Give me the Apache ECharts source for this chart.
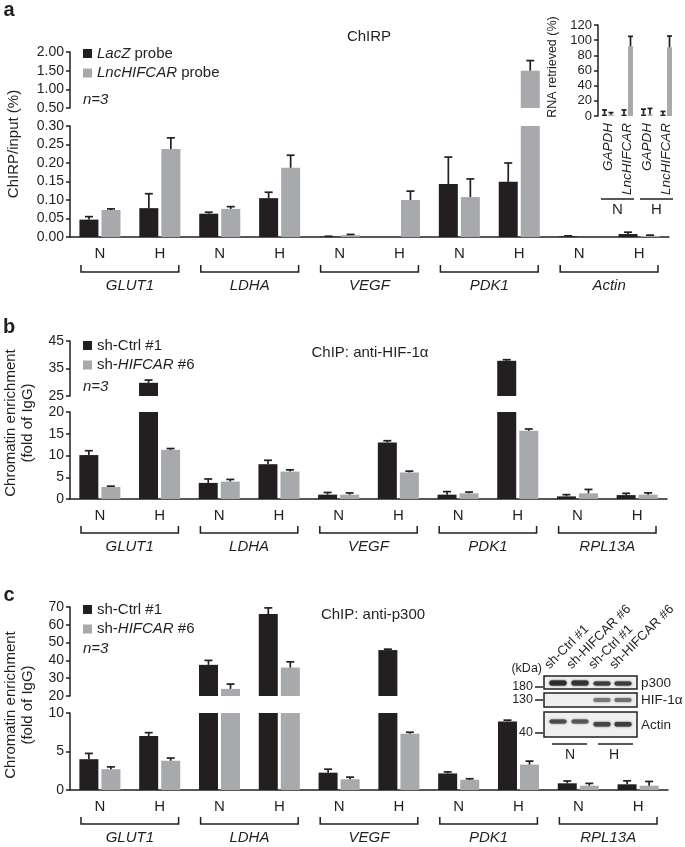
<!DOCTYPE html>
<html>
<head>
<meta charset="utf-8">
<script src="https://cdn.jsdelivr.net/npm/echarts@6/dist/echarts.min.js"></script>
<style>
html, body { margin: 0; padding: 0; background: #fff; }
#main { width: 685px; height: 847px; }
</style>
</head>
<body>
<div id="main"></div>
<script>
// categories
var conditions = ['N', 'H', 'N', 'H', 'N', 'H', 'N', 'H', 'N', 'H'];
var genesA = ['GLUT1', 'LDHA', 'VEGF', 'PDK1', 'Actin'];
var genesBC = ['GLUT1', 'LDHA', 'VEGF', 'PDK1', 'RPL13A'];

// a: ChIRP/input (%)
var lacz   = [0.047, 0.078, 0.063, 0.105, 0.001, 0, 0.143, 0.149, 0.002, 0.008];
var laczSd = [0.008, 0.039, 0.004, 0.016, 0.001, 0, 0.073, 0.051, 0.001, 0.005];
var lnc    = [0.073, 0.238, 0.076, 0.187, 0.005, 0.100, 0.108, 1.50, 0, 0.003];
var lncSd  = [0.003, 0.030, 0.006, 0.034, 0.002, 0.024, 0.049, 0.27, 0, 0.002];
var aLowTicks = [0, 0.05, 0.10, 0.15, 0.20, 0.25, 0.30];
var aHighTicks = [0.5, 1.0, 1.5, 2.0];

// a inset: RNA retrieved (%)
var insetCats = ['GAPDH', 'LncHIFCAR', 'GAPDH', 'LncHIFCAR'];
var insetGroups = ['N', 'H'];
var insetLacz   = [2, 2, 2, 2];
var insetLaczSd = [6, 6, 7, 4];
var insetLnc    = [2, 92, 2, 90.5];
var insetLncSd  = [2.5, 13, 8, 15];
var insetTicks = [0, 20, 40, 60, 80, 100, 120];

// b: ChIP anti-HIF-1a, fold of IgG
var ctrlB   = [10.1, 29.8, 3.7, 8.0, 1.0, 13.0, 1.0, 37.8, 0.6, 0.9];
var ctrlBSd = [1.0, 1.0, 0.9, 0.9, 0.5, 0.4, 0.7, 0.4, 0.4, 0.4];
var shB     = [2.75, 11.3, 4.0, 6.3, 1.0, 6.1, 1.3, 15.7, 1.3, 1.0];
var shBSd   = [0.2, 0.3, 0.5, 0.4, 0.4, 0.3, 0.3, 0.4, 0.9, 0.4];
var bLowTicks = [0, 5, 10, 15, 20];
var bHighTicks = [25, 35, 45];

// c: ChIP anti-p300, fold of IgG
var ctrlC   = [4.0, 7.0, 37.5, 66, 2.25, 45.8, 2.15, 8.9, 0.87, 0.74];
var ctrlCSd = [0.75, 0.45, 2.5, 3.5, 0.45, 0.5, 0.2, 0.17, 0.3, 0.45];
var shC     = [2.7, 3.8, 24, 36, 1.4, 7.3, 1.33, 3.3, 0.56, 0.56];
var shCSd   = [0.3, 0.35, 2.7, 3.2, 0.27, 0.2, 0.13, 0.45, 0.3, 0.55];
var cLowTicks = [0, 5, 10];
var cHighTicks = [20, 30, 40, 50, 60, 70];

// western blot lanes
var blotLanes = ['sh-Ctrl #1', 'sh-HIFCAR #6', 'sh-Ctrl #1', 'sh-HIFCAR #6'];

var ink = '#231f20';
var grey = '#a7a9ac';
var font = '"Liberation Sans", Arial, sans-serif';

var legendLabels = {
  'LacZ probe': '{i|LacZ} probe',
  'LncHIFCAR probe': '{i|LncHIFCAR} probe',
  'sh-Ctrl #1': 'sh-Ctrl #1',
  'sh-HIFCAR #6': 'sh-{i|HIFCAR} #6'
};

function fixed2(v) { return v.toFixed(2); }

function yAxisFor(grid, ticks, size, fmt) {
  return {
    type: 'value', gridIndex: grid, min: ticks[0], max: ticks[ticks.length - 1],
    axisLine: { show: true, lineStyle: { color: ink, width: 1.5 } },
    axisTick: { show: true, length: 4, customValues: ticks, lineStyle: { color: ink, width: 1.5 } },
    axisLabel: { customValues: ticks, margin: 6, fontSize: size, color: ink, fontFamily: font, formatter: fmt },
    splitLine: { show: false }
  };
}

function xAxisFor(grid, shown) {
  return {
    type: 'category', gridIndex: grid, data: conditions, show: shown,
    axisLine: { lineStyle: { color: ink, width: 1.5 } },
    axisTick: { length: 5, lineStyle: { color: ink, width: 1.5 } },
    axisLabel: { interval: 0, margin: 9, fontSize: 15, color: ink, fontFamily: font }
  };
}

function bars(axis, name, color, values, width, gap, cut) {
  return {
    type: 'bar', name: name, xAxisIndex: axis, yAxisIndex: axis,
    data: values.map(function (v) { return cut != null && v < cut ? '-' : v; }),
    barWidth: width, barGap: gap, itemStyle: { color: color }, silent: true
  };
}

function errorBars(axis, values, sds, side, half, cap, lo, hi) {
  var data = [];
  for (var i = 0; i < values.length; i++) {
    if (sds[i] > 0 && values[i] >= lo && values[i] <= hi) data.push([i, values[i], values[i] + sds[i]]);
  }
  return {
    type: 'custom', xAxisIndex: axis, yAxisIndex: axis, silent: true, z: 4, data: data,
    renderItem: function (params, api) {
      var base = api.coord([api.value(0), api.value(1)]);
      var top = api.coord([api.value(0), api.value(2)]);
      var x = base[0] + side * half;
      return { type: 'group', children: [
        { type: 'line', shape: { x1: x, y1: base[1], x2: x, y2: top[1] }, style: { stroke: ink, lineWidth: 1.7 } },
        { type: 'line', shape: { x1: x - cap / 2, y1: top[1], x2: x + cap / 2, y2: top[1] }, style: { stroke: ink, lineWidth: 1.7 } }
      ] };
    }
  };
}

// bracket under each pair of categories, with its name below
function brackets(axis, names, drop, tick, inset, textGap, italic) {
  return {
    type: 'custom', xAxisIndex: axis, yAxisIndex: axis, silent: true, clip: false,
    data: names.map(function (n, i) { return [2 * i, 0, i]; }),
    renderItem: function (params, api) {
      var i = api.value(2);
      var w = api.size([1, 0])[0];
      var p0 = api.coord([2 * i, 0]);
      var p1 = api.coord([2 * i + 1, 0]);
      var x0 = p0[0] - w / 2 + inset, x1 = p1[0] + w / 2 - inset, y = p0[1] + drop;
      return { type: 'group', children: [
        { type: 'polyline', shape: { points: [[x0, y - tick], [x0, y], [x1, y], [x1, y - tick]] },
          style: { stroke: ink, lineWidth: 1.5, fill: 'none' } },
        { type: 'text', x: (x0 + x1) / 2, y: y + textGap,
          style: { text: names[i], fontSize: 15, fontFamily: font, fontStyle: italic ? 'italic' : 'normal',
                   fill: ink, align: 'center', verticalAlign: 'middle' } }
      ] };
    }
  };
}

function text(x, y, str, opts) {
  opts = opts || {};
  return {
    type: 'text', x: x, y: y, rotation: opts.rotation || 0, silent: true,
    style: {
      text: str, fontSize: opts.size || 15, fontFamily: font,
      fontStyle: opts.italic ? 'italic' : 'normal', fontWeight: opts.bold ? 'bold' : 'normal',
      fill: ink, align: opts.align || 'center', verticalAlign: opts.valign || 'middle',
      lineHeight: opts.lineHeight || 17
    }
  };
}

function blot() {
  var els = [];
  var lanes = [558, 580, 602, 623];
  var boxes = [[676, 13], [693, 14], [712, 25]];
  boxes.forEach(function (b) {
    els.push({ type: 'rect', silent: true, shape: { x: 544, y: b[0], width: 93, height: b[1] },
      style: { fill: '#efefef', stroke: ink, lineWidth: 1.5 } });
  });
  function band(lane, y, h, color) {
    els.push({ type: 'rect', silent: true, shape: { x: lanes[lane] - 8.5, y: y, width: 17, height: h, r: 2 },
      style: { fill: color, shadowBlur: 2, shadowColor: color } });
  }
  band(0, 680.5, 5, '#2b2b2b'); band(1, 680.5, 5, '#333');
  band(2, 681.5, 4, '#3c3c3c'); band(3, 681.5, 4, '#3c3c3c');
  band(2, 698, 4, '#7a7a7a'); band(3, 698, 4, '#707070');
  band(0, 719.5, 4, '#4a4a4a'); band(1, 719.5, 4, '#555');
  band(2, 722, 4.5, '#444'); band(3, 722, 4.5, '#3c3c3c');
  blotLanes.forEach(function (name, i) {
    els.push(text(lanes[i] - 5, 673, name, { size: 13, align: 'left', valign: 'bottom', rotation: Math.PI / 4 }));
  });
  els.push(text(542, 669, '(kDa)', { size: 12.5, align: 'right' }));
  [['180', 687], ['130', 700], ['40', 733]].forEach(function (m) {
    els.push(text(533, m[1], m[0], { size: 12.5, align: 'right' }));
    els.push({ type: 'line', silent: true, shape: { x1: 535, y1: m[1], x2: 543, y2: m[1] }, style: { stroke: ink, lineWidth: 1.5 } });
  });
  els.push(text(641, 683, 'p300', { size: 13.5, align: 'left' }));
  els.push(text(641, 700, 'HIF-1α', { size: 13.5, align: 'left' }));
  els.push(text(641, 725, 'Actin', { size: 13.5, align: 'left' }));
  els.push({ type: 'line', silent: true, shape: { x1: 552, y1: 744, x2: 587, y2: 744 }, style: { stroke: ink, lineWidth: 1.5 } });
  els.push({ type: 'line', silent: true, shape: { x1: 598, y1: 744, x2: 633, y2: 744 }, style: { stroke: ink, lineWidth: 1.5 } });
  els.push(text(570, 755, 'N', { size: 14 }));
  els.push(text(614, 755, 'H', { size: 14 }));
  return els;
}

function legendAt(top, names) {
  return {
    left: 83, top: top, orient: 'vertical', data: names, icon: 'rect', padding: 0,
    itemWidth: 9, itemHeight: 9, itemGap: 4.5, selectedMode: false,
    formatter: function (name) { return legendLabels[name]; },
    textStyle: { fontSize: 15, lineHeight: 14, color: ink, fontFamily: font,
      rich: { i: { fontStyle: 'italic', fontSize: 15, lineHeight: 14, color: ink, fontFamily: font } } }
  };
}

var W = 19, GAP = '16%', HALF = 11, CAP = 8;
var IW = 5, IGAP = '30%', IHALF = 3.25, ICAP = 5;

var chart = echarts.init(document.getElementById('main'), null, { renderer: 'canvas' });

var option = {
  animation: false,
  backgroundColor: '#fff',
  textStyle: { fontFamily: font },
  grid: [
    { left: 70, top: 52, width: 599, height: 56 },
    { left: 70, top: 126, width: 599, height: 111 },
    { left: 598, top: 25, width: 78, height: 91 },
    { left: 70, top: 341, width: 597, height: 55 },
    { left: 70, top: 412, width: 597, height: 87 },
    { left: 70, top: 607, width: 598, height: 89 },
    { left: 70, top: 713, width: 598, height: 77 }
  ],
  xAxis: [
    xAxisFor(0, false),
    xAxisFor(1, true),
    {
      type: 'category', gridIndex: 2, data: insetCats,
      axisLine: { show: false }, axisTick: { show: false },
      axisLabel: { interval: 0, rotate: 90, margin: 7, fontSize: 13.5, fontStyle: 'italic', color: ink, fontFamily: font }
    },
    xAxisFor(3, false),
    xAxisFor(4, true),
    xAxisFor(5, false),
    xAxisFor(6, true)
  ],
  yAxis: [
    yAxisFor(0, aHighTicks, 14, fixed2),
    yAxisFor(1, aLowTicks, 14, fixed2),
    yAxisFor(2, insetTicks, 13, null),
    yAxisFor(3, bHighTicks, 14, null),
    yAxisFor(4, bLowTicks, 14, null),
    yAxisFor(5, cHighTicks, 14, null),
    yAxisFor(6, cLowTicks, 14, null)
  ],
  legend: [
    legendAt(46, ['LacZ probe', 'LncHIFCAR probe']),
    legendAt(338, ['sh-Ctrl #1', 'sh-HIFCAR #6']),
    legendAt(602, ['sh-Ctrl #1', 'sh-HIFCAR #6'])
  ],
  series: [
    // a
    bars(0, 'LacZ probe', ink, lacz, W, GAP, 0.5),
    bars(0, 'LncHIFCAR probe', grey, lnc, W, GAP, 0.5),
    errorBars(0, lacz, laczSd, -1, HALF, CAP, 0.5, Infinity),
    errorBars(0, lnc, lncSd, 1, HALF, CAP, 0.5, Infinity),
    bars(1, 'LacZ probe', ink, lacz, W, GAP),
    bars(1, 'LncHIFCAR probe', grey, lnc, W, GAP),
    errorBars(1, lacz, laczSd, -1, HALF, CAP, -Infinity, 0.3),
    errorBars(1, lnc, lncSd, 1, HALF, CAP, -Infinity, 0.3),
    brackets(1, genesA, 35, 7, 11, 14, true),
    // a inset
    bars(2, 'LacZ probe', ink, insetLacz, IW, IGAP),
    bars(2, 'LncHIFCAR probe', grey, insetLnc, IW, IGAP),
    errorBars(2, insetLacz, insetLaczSd, -1, IHALF, ICAP, -Infinity, Infinity),
    errorBars(2, insetLnc, insetLncSd, 1, IHALF, ICAP, -Infinity, Infinity),
    brackets(2, insetGroups, 83, 0, 3, 11, false),
    // b
    bars(3, 'sh-Ctrl #1', ink, ctrlB, W, GAP, 25),
    bars(3, 'sh-HIFCAR #6', grey, shB, W, GAP, 25),
    errorBars(3, ctrlB, ctrlBSd, -1, HALF, CAP, 25, Infinity),
    errorBars(3, shB, shBSd, 1, HALF, CAP, 25, Infinity),
    bars(4, 'sh-Ctrl #1', ink, ctrlB, W, GAP),
    bars(4, 'sh-HIFCAR #6', grey, shB, W, GAP),
    errorBars(4, ctrlB, ctrlBSd, -1, HALF, CAP, -Infinity, 20),
    errorBars(4, shB, shBSd, 1, HALF, CAP, -Infinity, 20),
    brackets(4, genesBC, 34, 7, 11, 14, true),
    // c
    bars(5, 'sh-Ctrl #1', ink, ctrlC, W, GAP, 20),
    bars(5, 'sh-HIFCAR #6', grey, shC, W, GAP, 20),
    errorBars(5, ctrlC, ctrlCSd, -1, HALF, CAP, 20, Infinity),
    errorBars(5, shC, shCSd, 1, HALF, CAP, 20, Infinity),
    bars(6, 'sh-Ctrl #1', ink, ctrlC, W, GAP),
    bars(6, 'sh-HIFCAR #6', grey, shC, W, GAP),
    errorBars(6, ctrlC, ctrlCSd, -1, HALF, CAP, -Infinity, 10),
    errorBars(6, shC, shCSd, 1, HALF, CAP, -Infinity, 10),
    brackets(6, genesBC, 34, 7, 11, 13.5, true)
  ],
  graphic: [
    text(9, 10, 'a', { size: 20, bold: true }),
    text(9, 327, 'b', { size: 20, bold: true }),
    text(9, 595, 'c', { size: 20, bold: true }),
    text(369, 37, 'ChIRP'),
    text(370, 353, 'ChIP: anti-HIF-1α'),
    text(373, 615, 'ChIP: anti-p300'),
    text(83, 100, 'n=3', { italic: true, align: 'left' }),
    text(83, 387, 'n=3', { italic: true, align: 'left' }),
    text(83, 649, 'n=3', { italic: true, align: 'left' }),
    text(14, 144, 'ChIRP/input (%)', { rotation: Math.PI / 2 }),
    text(553, 67, 'RNA retrieved (%)', { size: 12.5, rotation: Math.PI / 2 }),
    text(19, 423, 'Chromatin enrichment\n(fold of IgG)', { rotation: Math.PI / 2 }),
    text(19, 705, 'Chromatin enrichment\n(fold of IgG)', { rotation: Math.PI / 2 })
  ].concat(blot())
};

chart.setOption(option);
</script>
</body>
</html>
